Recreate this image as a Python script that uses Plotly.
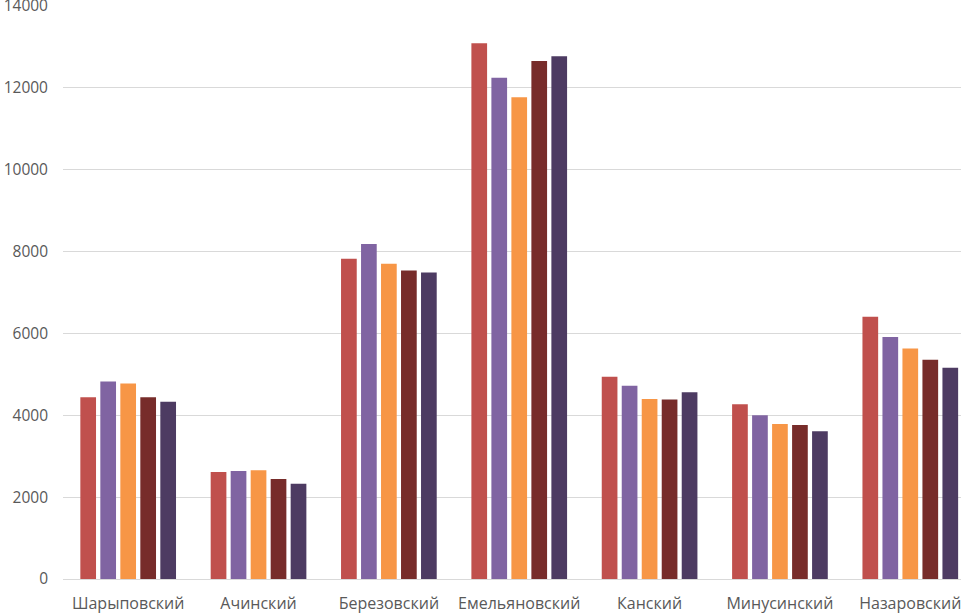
import plotly.graph_objects as go

categories = ["Шарыповский", "Ачинский", "Березовский", "Емельяновский", "Канский", "Минусинский", "Назаровский"]
series_names = ["Ряд 1", "Ряд 2", "Ряд 3", "Ряд 4", "Ряд 5"]
series1 = [4440, 2615, 7825, 13090, 4940, 4270, 6410]
series2 = [4825, 2640, 8185, 12245, 4720, 4000, 5910]
series3 = [4775, 2655, 7700, 11770, 4395, 3790, 5630]
series4 = [4440, 2445, 7540, 12655, 4385, 3760, 5355]
series5 = [4330, 2325, 7490, 12770, 4565, 3610, 5160]
colors = ["#C0504D", "#8064A2", "#F79646", "#772C2A", "#4D3B62"]

fig = go.Figure()
for name, vals, c in zip(series_names, [series1, series2, series3, series4, series5], colors):
    fig.add_trace(go.Bar(x=categories, y=vals, name=name, marker=dict(color=c, line=dict(width=0))))

fig.update_layout(
    width=961, height=613,
    margin=dict(l=63, r=0, t=6, b=34),
    paper_bgcolor="white", plot_bgcolor="white",
    barmode="group", bargap=0.233, bargroupgap=0.215,
    showlegend=False,
    font=dict(family="Open Sans", size=16, color="#595959"),
    xaxis=dict(range=[-0.5, 6.389], showgrid=False, showline=False, ticks="",
               automargin=False, ticklabeloverflow="allow", ticklabelstandoff=13,
               tickfont=dict(size=16, color="#595959")),
    yaxis=dict(range=[0, 14000], tickvals=[0, 2000, 4000, 6000, 8000, 10000, 12000, 14000],
               ticktext=["0", "2000", "4000", "6000", "8000", "10000", "12000", "14000"],
               showgrid=True, gridcolor="#D9D9D9", gridwidth=1, zeroline=True,
               zerolinecolor="#D9D9D9", zerolinewidth=1, ticks="", ticklabelstandoff=14,
               automargin=False, ticklabeloverflow="allow",
               tickfont=dict(size=15.5, color="#595959")),
)
fig.write_html("out.html", config={"displayModeBar": False},
               post_script="document.body.style.margin='0';document.body.style.padding='0';")
